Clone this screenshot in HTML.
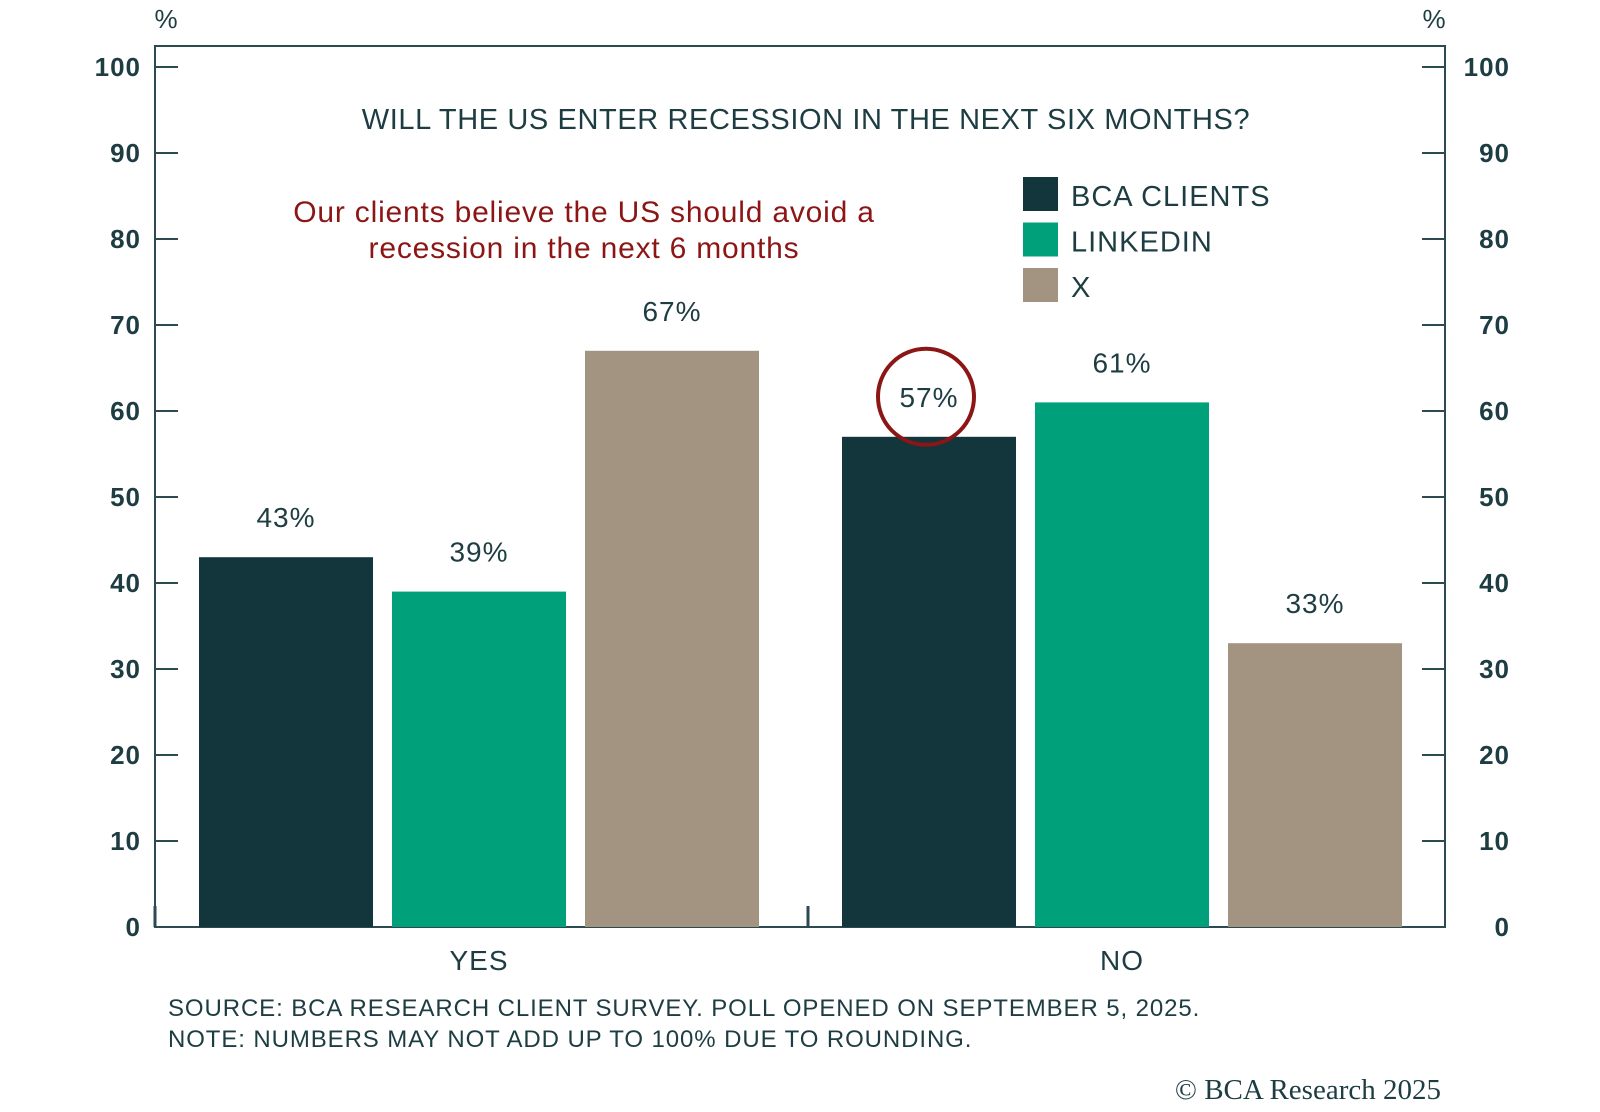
<!DOCTYPE html>
<html><head><meta charset="utf-8">
<style>
body{margin:0;background:#fff;width:1600px;height:1107px;overflow:hidden}
</style></head>
<body>
<svg id="chart" width="1600" height="1107" xmlns="http://www.w3.org/2000/svg" font-family="Liberation Sans, sans-serif">
</svg>
<script>
const categories = ["YES", "NO"];
const seriesNames = ["BCA CLIENTS", "LINKEDIN", "X"];
const bcaValues = [43, 57];
const linkedinValues = [39, 61];
const xValues = [67, 33];
const yTicks = [0,10,20,30,40,50,60,70,80,90,100];

const svg = document.getElementById('chart');
const NS = 'http://www.w3.org/2000/svg';
const colors = ['#12363c', '#00a07a', '#a39381'];
const ink = '#1d3d42';
const L = 155, R = 1445, T = 46, B = 927;
const y = v => B - v * 8.6;
const groupStart = [199, 842];
const barW = 174, gap = 19;
const xBar = (g, s) => groupStart[g] + s * (barW + gap);

function mk(tag, attrs, text){
  const e = document.createElementNS(NS, tag);
  for (const k in attrs) e.setAttribute(k, attrs[k]);
  if (text !== undefined) e.textContent = text;
  svg.appendChild(e);
  return e;
}

let e = mk('rect',{x:L,y:T,width:R-L,height:B-T,fill:'none',stroke:'#2c4a4f','stroke-width':2});



yTicks.forEach(t => {
  let a = mk('line',{x1:L,x2:L+23,y1:y(t),y2:y(t),stroke:'#2c4a4f','stroke-width':2});
  
  
  let b = mk('line',{x1:R-23,x2:R,y1:y(t),y2:y(t),stroke:'#2c4a4f','stroke-width':2});
  
  
  let lt = mk('text',{x:141,y:y(t)+9,'text-anchor':'end','font-size':26,fill:ink,'font-weight':'bold','letter-spacing':1},String(t));
  
  
  let rt = mk('text',{x:1510,y:y(t)+9,'text-anchor':'end','font-size':26,fill:ink,'font-weight':'bold','letter-spacing':1},String(t));
  
  
});
e = mk('line',{x1:808,x2:808,y1:906,y2:927,stroke:'#2c4a4f','stroke-width':3});


e = mk('line',{x1:L,x2:L,y1:906,y2:927,stroke:'#2c4a4f','stroke-width':3});



e = mk('text',{x:166,y:28,'text-anchor':'middle','font-size':26,fill:ink},'%');


e = mk('text',{x:1434,y:28,'text-anchor':'middle','font-size':26,fill:ink},'%');



const all = [bcaValues, linkedinValues, xValues];
categories.forEach((c, g) => {
  all.forEach((vals, s) => {
    const v = vals[g];
    let r = mk('rect',{x:xBar(g,s),y:y(v),width:barW,height:B-y(v),fill:colors[s]});
    
    
    let t = mk('text',{x:xBar(g,s)+barW/2,y:y(v)-30,'text-anchor':'middle','font-size':28,fill:ink,'letter-spacing':1},v+'%');
    
    
  });
  let cl = mk('text',{x:groupStart[g]+(3*barW+2*gap)/2,y:970,'text-anchor':'middle','font-size':28,fill:ink,'letter-spacing':1},c);
  
  
});

e = mk('circle',{cx:xBar(1,0)+barW/2-3,cy:y(bcaValues[1])-40,r:48,fill:'none',stroke:'#8c1515','stroke-width':4});



e = mk('text',{x:806,y:129,'text-anchor':'middle','font-size':29,fill:ink,'letter-spacing':0.6},'WILL THE US ENTER RECESSION IN THE NEXT SIX MONTHS?');


e = mk('text',{x:584,y:222,'text-anchor':'middle','font-size':30,fill:'#8c1515','letter-spacing':0.8},'Our clients believe the US should avoid a');


e = mk('text',{x:584,y:258,'text-anchor':'middle','font-size':30,fill:'#8c1515','letter-spacing':0.8},'recession in the next 6 months');



seriesNames.forEach((n, s) => {
  let sq = mk('rect',{x:1023,y:177+s*45.5,width:35,height:34,fill:colors[s]});
  
  
  let lt = mk('text',{x:1071,y:206+s*45.5,'font-size':29,fill:ink,'letter-spacing':1},n);
  
  
});

e = mk('text',{x:168,y:1016,'font-size':24,fill:ink,'letter-spacing':0.9},'SOURCE: BCA RESEARCH CLIENT SURVEY. POLL OPENED ON SEPTEMBER 5, 2025.');


e = mk('text',{x:168,y:1047,'font-size':24,fill:ink,'letter-spacing':0.9},'NOTE: NUMBERS MAY NOT ADD UP TO 100% DUE TO ROUNDING.');


e = mk('text',{x:1441,y:1099,'text-anchor':'end','font-size':29,fill:ink,'font-family':'Liberation Serif, serif'},'© BCA Research 2025');


</script>
</body></html>
